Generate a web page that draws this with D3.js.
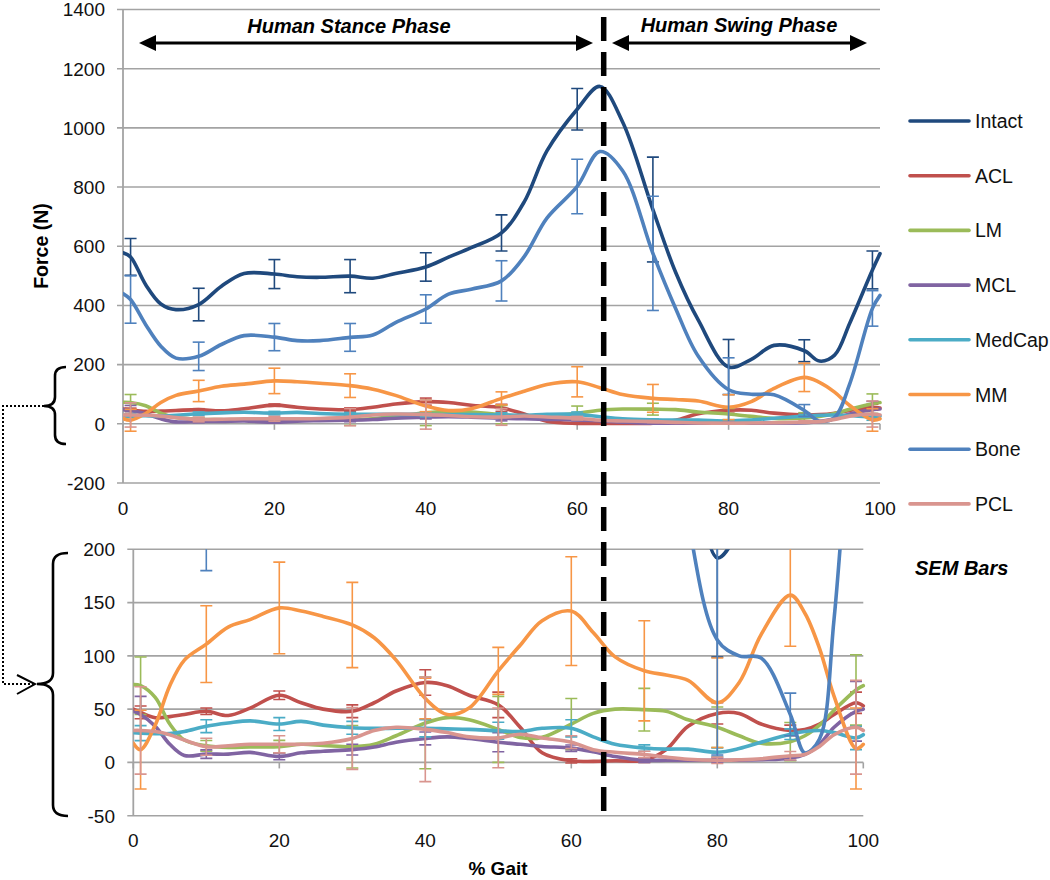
<!DOCTYPE html>
<html><head><meta charset="utf-8">
<script src="https://cdn.jsdelivr.net/npm/d3@7"></script>
<style>body{margin:0;background:#fff}svg{display:block;font-family:"Liberation Sans",Arial,sans-serif}</style>
</head><body><svg id="c" width="1050" height="880"></svg>
<script>
// ---------- data ----------
const gait = [0,1,3,5,7,10,13,16,20,23,26,30,33,36,40,43,46,50,53,56,60,63,66,70,73,76,80,83,86,90,92,94,96,99,100];

const seriesNames  = ["Intact","ACL","LM","MCL","MedCap","MM","Bone","PCL"];
const seriesColors = ["#1F497D","#C0504D","#9BBB59","#8064A2","#4BACC6","#F79646","#4F81BD","#D9958F"];

const intact = [578,564,470,405,386,403,465,508,506,497,495,499,492,508,530,563,595,645,750,922,1063,1140,1020,724,512,350,192,218,265,247,212,232,340,520,575];
const acl    = [50,47,42,43,45,48,44,51,63,56,50,48,56,67,75,72,63,54,33,9,1.5,1,1.5,2,12,34,46,46,36,30,31,36,45,56,53];
const lm     = [73,72,61,36,21,15.6,14,14.5,14.7,17,16,14.7,17,25,37,42,40,31,23.4,23.5,36,46,50,49.5,48,40,33,25,18,19.5,25,35,49,68,72];
const mcl    = [48,45,34,17,6.5,7.8,7.8,9.4,5.5,9,10.5,12,14.5,19,22.5,24,22.5,19,17,15,13.4,10,5.5,2,2,2,2,2,2.5,4,7.5,17,33,48,50];
const medcap = [28,27.5,27,27,29,34,37,39,36,38.5,35,32.5,32,32,32,31.5,31,29.7,29,32,32,24,17,13.5,12.5,12.5,9.5,13,19,26.5,29,30,28,23,26];
const mm     = [18,12,35,72,96,111,127,134,145,142,137,129,117,96,60,45,51,86,110,133,142,122,99,86,82,77,56,75,120,157,140,107,62,13,17];
const bone   = [440,420,335,262,222,228,268,298,293,281,281,292,300,342,388,438,455,483,565,695,802,920,855,576,390,228,115,100,98,45,9,22,135,390,434];
const pcl    = [30,30,29,26,21,14.7,15.6,17,17,17,18,22.5,30,33,31,28,24,23,26.5,23,19,12,9.5,7.5,5,3,2,2.5,3.5,6.3,7.5,15,26,33,30];

// SEM error bars at these gait points
const errGait    = [1,10,20,30,40,50,60,70,80,90,99];
const semIntact  = [62,55,49,56,48,61,70,177,93,37,64];
const semAcl     = [6,3,4,6,12,12,2,2,10,5,10];
const semLm      = [27,5,6,20,43,31,24,20,19,18,33];
const semMcl     = [17,4,3,5,6,9,3,2,2,2,28];
const semMedcap  = [7,6,6,6,8,8,8,3,4,5,11];
const semMm      = [37,36,43,40,19,22,51,47,42,48,38];
const semBone    = [80,48,46,47,48,68,92,193,108,20,60];
const semPcl     = [41,8,8,29,49,28,6,3,3,4,44];

const yTicksTop    = [-200,0,200,400,600,800,1000,1200,1400];
const yTicksBottom = [-50,0,50,100,150,200];
const xTicks       = [0,20,40,60,80,100];

const phaseSplit = 63.5;

const values = [intact, acl, lm, mcl, medcap, mm, bone, pcl];
const sems   = [semIntact, semAcl, semLm, semMcl, semMedcap, semMm, semBone, semPcl];

// ---------- drawing ----------
const svg = d3.select("#c");
svg.append("rect").attr("width",1050).attr("height",880).attr("fill","#fff");
const GRID = "#A3A3A3";

function panel(id, xr, yDomain, yr, yLabelX, xLabelY) {
  const x = d3.scaleLinear().domain([0,100]).range(xr);
  const y = d3.scaleLinear().domain(yDomain).range(yr);
  const g = svg.append("g");
  const ticks = id === "top" ? yTicksTop : yTicksBottom;
  g.selectAll("line.grid").data(ticks).join("line")
    .attr("x1", xr[0]-6).attr("x2", xr[1])
    .attr("y1", d=>y(d)).attr("y2", d=>y(d))
    .attr("stroke", GRID).attr("stroke-width", 1.6);
  g.append("line").attr("x1",xr[0]).attr("x2",xr[0])
    .attr("y1",y(yDomain[0])).attr("y2",y(yDomain[1]))
    .attr("stroke",GRID).attr("stroke-width",1.8);
  g.selectAll("line.xt").data(xTicks).join("line")
    .attr("x1",d=>x(d)).attr("x2",d=>x(d))
    .attr("y1",y(0)).attr("y2",y(0)+6)
    .attr("stroke",GRID).attr("stroke-width",1.6);
  g.selectAll("text.yl").data(ticks).join("text")
    .attr("x", yLabelX).attr("y", d=>y(d)).attr("dy","0.36em")
    .attr("text-anchor","end").attr("font-size",19).attr("fill","#111")
    .text(d=>d);
  g.selectAll("text.xl").data(xTicks).join("text")
    .attr("x", d=>x(d)).attr("y", xLabelY)
    .attr("text-anchor","middle").attr("font-size",19).attr("fill","#111")
    .text(d=>d);
  svg.append("clipPath").attr("id","clip-"+id).append("rect")
    .attr("x", xr[0]).attr("y", yr[1]).attr("width", xr[1]-xr[0]+4).attr("height", yr[0]-yr[1]);
  const pg = svg.append("g").attr("clip-path","url(#clip-"+id+")");
  const line = d3.line().x(d=>x(d[0])).y(d=>y(d[1])).curve(d3.curveCatmullRom.alpha(0.5));
  values.forEach((vals, si) => {
    const col = seriesColors[si];
    pg.append("path").attr("d", line(gait.map((gv,i)=>[gv, vals[i]])))
      .attr("fill","none").attr("stroke",col).attr("stroke-width",3.6)
      .attr("stroke-linejoin","round").attr("stroke-linecap","round");
    const bars = errGait.map((gv,i)=>({g:gv, c: vals[gait.indexOf(gv)], s: sems[si][i]}));
    const bg = pg.append("g").attr("stroke",col).attr("stroke-width",1.6);
    bars.forEach(b => {
      const bx = x(b.g), y1 = y(b.c + b.s), y2 = y(b.c - b.s);
      bg.append("line").attr("x1",bx).attr("x2",bx).attr("y1",y1).attr("y2",y2);
      bg.append("line").attr("x1",bx-6).attr("x2",bx+6).attr("y1",y1).attr("y2",y1);
      bg.append("line").attr("x1",bx-6).attr("x2",bx+6).attr("y1",y2).attr("y2",y2);
    });
  });
  return {x, y};
}

const topP = panel("top", [123, 880], [-200, 1400], [483, 9.5], 105, 515);
const botP = panel("bot", [133.3, 863.3], [-50, 200], [815.7, 549.3], 115, 847);

// axis titles
svg.append("text").attr("transform","translate(48,246) rotate(-90)")
  .attr("text-anchor","middle").attr("font-size",19.5).attr("font-weight","bold").text("Force (N)");
svg.append("text").attr("x",498).attr("y",875).attr("text-anchor","middle")
  .attr("font-size",19).attr("font-weight","bold").text("% Gait");

// phase split dashed line
const sx = topP.x(phaseSplit);
svg.append("line").attr("x1",sx).attr("x2",sx).attr("y1",17).attr("y2",819)
  .attr("stroke","#000").attr("stroke-width",5.5).attr("stroke-dasharray","24,11");

// phase arrows
function dblArrow(x1, x2, yy) {
  svg.append("line").attr("x1",x1+14).attr("x2",x2-14).attr("y1",yy).attr("y2",yy)
    .attr("stroke","#000").attr("stroke-width",3);
  svg.append("path").attr("d",`M${x1},${yy}L${x1+17},${yy-8}L${x1+17},${yy+8}Z`).attr("fill","#000");
  svg.append("path").attr("d",`M${x2},${yy}L${x2-17},${yy-8}L${x2-17},${yy+8}Z`).attr("fill","#000");
}
dblArrow(139, 593, 43);
dblArrow(612, 867, 43);
svg.append("text").attr("x",349).attr("y",33).attr("text-anchor","middle")
  .attr("font-size",20).attr("font-weight","bold").attr("font-style","italic").text("Human Stance Phase");
svg.append("text").attr("x",739).attr("y",32).attr("text-anchor","middle")
  .attr("font-size",20).attr("font-weight","bold").attr("font-style","italic").text("Human Swing Phase");

// legend
const lg = svg.append("g");
seriesNames.forEach((n,i)=>{
  const ly = 121 + i*54.7;
  lg.append("line").attr("x1",910).attr("x2",969).attr("y1",ly).attr("y2",ly)
    .attr("stroke",seriesColors[i]).attr("stroke-width",3.6).attr("stroke-linecap","round");
  lg.append("text").attr("x",975).attr("y",ly).attr("dy","0.36em").attr("font-size",19.5).attr("fill","#111").text(n);
});
svg.append("text").attr("x",915).attr("y",575).attr("font-size",20).attr("font-weight","bold")
  .attr("font-style","italic").text("SEM Bars");

// brackets and dotted connector
svg.append("path").attr("d","M66,367 Q55,367 55,376 L55,397 Q55,406 44,406 Q55,406 55,415 L55,435 Q55,444 66,444")
  .attr("fill","none").attr("stroke","#000").attr("stroke-width",2.6);
svg.append("path").attr("d","M68,553 Q53,553 53,564 L53,673 Q53,684 37,684 Q53,684 53,695 L53,805 Q53,816 68,816")
  .attr("fill","none").attr("stroke","#000").attr("stroke-width",2.6);
svg.append("path").attr("d","M44,406 L3,406 L3,684 L35,684")
  .attr("fill","none").attr("stroke","#000").attr("stroke-width",2).attr("stroke-dasharray","2,2");
svg.append("path").attr("d","M17,675 L35,684 L17,694")
  .attr("fill","none").attr("stroke","#000").attr("stroke-width",2);
</script></body></html>
